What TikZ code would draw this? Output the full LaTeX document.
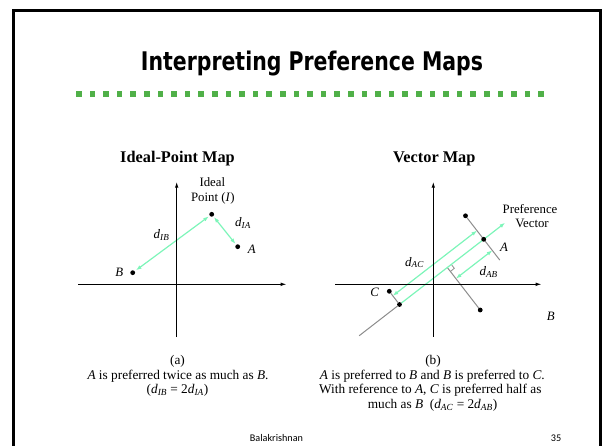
\documentclass[tikz,border=0pt]{standalone}
\usepackage{fontspec}
\setmainfont{Liberation Serif}
\newfontfamily\titlefont{DejaVu Sans}
\newfontfamily\footfont{Carlito}
\usetikzlibrary{arrows.meta,backgrounds}
\definecolor{sqgreen}{RGB}{80,176,72}
\definecolor{arrgreen}{RGB}{125,245,185}
\definecolor{linegray}{RGB}{140,140,140}
\newcommand{\dsub}[1]{\textit{d}\textsubscript{\textit{#1}}}
\tikzset{
  dot/.style={circle,fill=black,inner sep=0pt,minimum size=4.8pt},
  axisline/.style={line width=1.1pt,-{Latex[length=6pt,width=3.6pt]}},
  gline/.style={linegray,line width=1pt},
  garrow/.style={arrgreen,line width=1.2pt,{Latex[length=5.5pt,width=4pt]}-{Latex[length=5.5pt,width=4pt]}},
  garrowone/.style={arrgreen,line width=1.2pt,-{Latex[length=5.5pt,width=4pt]}},
  lbl/.style={inner sep=0pt,anchor=base,font=\fontsize{12.8}{14}\selectfont},
  dlbl/.style={inner sep=0pt,anchor=base west,font=\fontsize{13}{14}\selectfont},
  captxt/.style={inner sep=0pt,anchor=base,font=\fontsize{13.3}{14.5}\selectfont},
  headtxt/.style={inner sep=0pt,anchor=base,font=\fontsize{16.3}{18}\selectfont\bfseries},
}
\begin{document}
\begin{tikzpicture}[x=1pt,y=-1pt]
\useasboundingbox (0,0) rectangle (602,446);
% frame
\draw[line width=2.6pt] (13.3,470) -- (13.3,10.3) -- (600.3,10.3) -- (600.3,470);
% title
\node[anchor=base,inner sep=0pt] (title) at (312,71)
  {\resizebox{342pt}{19.5pt}{\titlefont\bfseries Interpreting Preference Maps}};
\foreach \i in {0,...,34}
  \fill[sqgreen] ({76+\i*13.6},91.5) rectangle ++(5.6,5.6);

% ---------- left: ideal point map ----------
\node[headtxt] (h1) at (177.5,162.3) {Ideal-Point Map};
\coordinate (l1b) at (176.7,337);
\coordinate (l1t) at (176.7,181.7);
\coordinate (l1l) at (78,284.3);
\coordinate (l1r) at (286.7,284.3);
\draw[axisline] (l1b) -- (l1t);
\draw[axisline] (l1l) -- (l1r);
\node[dot] (I) at (211.7,214.3) {};
\node[dot] (A1) at (237.7,246.7) {};
\node[dot] (B1) at (132.7,272.7) {};
\begin{scope}[on background layer]
\draw[garrow,shorten <=1pt,shorten >=1.5pt] (I) -- (B1);
\draw[garrow,shorten <=1pt,shorten >=1pt] (I) -- (A1);
\end{scope}
\node[lbl] (ideal) at (212.3,187) {Ideal};
\node[lbl] (point) at (212.8,201.5) {Point (\textit{I})};
\node[lbl] (la1) at (251.7,253.3) {\textit{A}};
\node[lbl] (lb1) at (119.2,276.7) {\textit{B}};
\node[dlbl] (dib) at (153.5,239) {\dsub{IB}};
\node[dlbl] (dia) at (235,226.7) {\dsub{IA}};

% ---------- right: vector map ----------
\node[headtxt] (h2) at (434.3,162.3) {Vector Map};
\coordinate (r1b) at (433.3,336.5);
\coordinate (r1t) at (433.3,181.7);
\coordinate (r1l) at (335,284.3);
\coordinate (r1r) at (541.7,284.3);
\draw[axisline] (r1b) -- (r1t);
\draw[axisline] (r1l) -- (r1r);
\node[dot] (Cp) at (399.5,304.5) {};
\node[dot] (C) at (389.3,291.3) {};
\node[dot] (A) at (465.5,215.8) {};
\node[dot] (Af) at (483.7,239.3) {};
\node[dot] (B) at (480.2,310.0) {};
\coordinate (Aend) at (499.8,260.1);
\coordinate (Bf) at (447.3,267.5);
\coordinate (Vtail) at (359.2,335.7);
\coordinate (Vtip) at (505.1,222.8);
\coordinate (ACa) at (392.8,295.8);
\coordinate (ACb) at (477.0,230.6);
\coordinate (ABa) at (455.9,278.6);
\coordinate (ABb) at (492.3,250.4);
\coordinate (ra1) at (451.3,264.4);
\coordinate (ra2) at (454.3,268.3);
\coordinate (ra3) at (450.4,271.5);
\begin{scope}[on background layer]
\draw[gline] (Vtail) -- (Cp);
\draw[gline] (C) -- (Cp);
\draw[gline] (A) -- (Aend);
\draw[gline] (Bf) -- (B);
\draw[gline,line width=0.8pt] (ra1) -- (ra2) -- (ra3);
\draw[garrowone] (Cp) -- (Vtip);
\draw[garrow] (ACa) -- (ACb);
\draw[garrow] (ABa) -- (ABb);
\end{scope}
\node[lbl] (pref) at (530,213.3) {Preference};
\node[lbl] (vect) at (532,227.3) {Vector};
\node[lbl] (la2) at (504,251.7) {\textit{A}};
\node[lbl] (lc2) at (374.7,296.7) {\textit{C}};
\node[lbl] (lb2) at (550.8,320.7) {\textit{B}};
\node[dlbl] (dac) at (405,266) {\dsub{AC}};
\node[dlbl] (dab) at (479.3,275.7) {\dsub{AB}};

% ---------- captions ----------
\node[captxt] (ca1) at (177.5,364.5) {(a)};
\node[captxt] (ca2) at (178,379) {\textit{A} is preferred twice as much as \textit{B}.};
\node[captxt] (ca3) at (177.5,393.5) {(\dsub{IB} = 2\dsub{IA})};
\node[captxt] (cb1) at (433,364.5) {(b)};
\node[captxt] (cb2) at (432.3,379) {\textit{A} is preferred to \textit{B} and \textit{B} is preferred to \textit{C}.};
\node[captxt] (cb3) at (430.3,393.5) {With reference to \textit{A}, \textit{C} is preferred half as};
\node[captxt] (cb4) at (432.5,408.3) {much as \textit{B}\ \ (\dsub{AC} = 2\dsub{AB})};

% footer
\node[inner sep=0pt,anchor=base,font=\footfont\fontsize{10.2}{12}\selectfont] (foot) at (276.5,441) {Balakrishnan};
\node[inner sep=0pt,anchor=base,font=\footfont\fontsize{10.2}{12}\selectfont] (pg) at (556,441) {35};
\end{tikzpicture}
\end{document}
